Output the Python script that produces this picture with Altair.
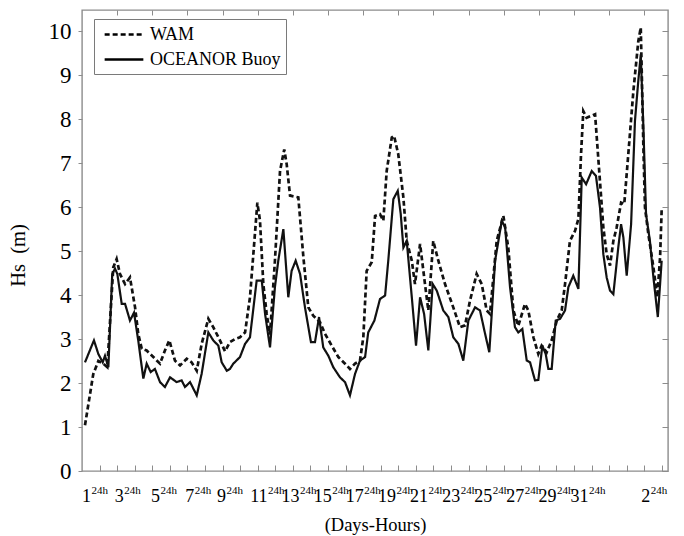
import altair as alt
import pandas as pd

FONT = "Liberation Serif"
FRAME = "#8c8c8c"

# WAM model significant wave height (time in days, Hs in metres)
wam_day = [0.17, 0.64, 0.93, 1.21, 1.44, 1.78, 1.97, 2.16, 2.45, 2.73, 3.02, 3.20,
           3.40, 3.68, 4.06, 4.44, 4.72, 4.97, 5.29, 5.58, 5.96, 6.24, 6.53, 6.81,
           7.19, 7.47, 7.85, 8.14, 8.42, 8.71, 8.99, 9.28, 9.56, 9.98, 10.13, 10.32,
           10.51, 10.70, 10.98, 11.27, 11.51, 11.65, 11.84, 12.31, 12.60, 12.88, 13.16,
           13.55, 13.83, 14.21, 14.59, 14.97, 15.25, 15.54, 15.82, 16.01, 16.20, 16.49,
           16.68, 16.96, 17.15, 17.34, 17.63, 17.76, 18.00, 18.29, 18.48, 18.77, 18.95,
           19.24, 19.52, 19.71, 19.99, 20.28, 20.66, 21.13, 21.51, 21.80, 22.08, 22.46,
           22.75, 23.03, 23.22, 23.60, 23.98, 24.26, 24.55, 24.83, 25.21, 25.40, 25.69,
           25.97, 26.16, 26.45, 26.73, 27.02, 27.30, 27.49, 27.77, 28.06, 28.25, 28.40,
           28.53, 28.72, 29.20, 29.42, 29.67, 29.86, 30.05, 30.24, 30.43, 30.68, 30.86,
           31.09, 31.38, 31.66, 31.80, 31.95, 32.04, 32.23, 32.52, 32.74, 32.90, 32.99]
wam_hs = [1.04, 2.20, 2.50, 2.44, 2.36, 4.63, 4.82, 4.48, 4.25, 4.40, 3.72, 3.12,
          2.78, 2.74, 2.59, 2.44, 2.74, 2.97, 2.51, 2.40, 2.55, 2.47, 2.28, 2.89,
          3.46, 3.27, 2.97, 2.72, 2.93, 3.00, 3.04, 3.15, 3.95, 6.10, 5.69, 4.25,
          3.57, 3.10, 4.78, 6.82, 7.31, 6.97, 6.26, 6.22, 4.86, 3.72, 3.53,
          3.38, 3.12, 2.85, 2.59, 2.44, 2.32, 2.44, 2.51, 3.04, 4.55, 4.75,
          5.80, 5.84, 5.69, 6.82, 7.58, 7.62, 7.20, 6.22, 5.23, 4.78, 4.25,
          5.16, 4.25, 3.65, 5.23, 4.78, 4.25, 3.72, 3.27, 3.31, 3.87, 4.48,
          4.25, 3.65, 3.57, 5.23, 5.80, 5.08, 3.65, 3.30, 3.80, 3.65, 3.04,
          2.66, 2.85, 2.70, 2.97, 3.42, 3.65, 4.25, 5.23, 5.46, 5.73, 7.20,
          8.18, 8.03, 8.11, 6.90, 5.54, 4.93, 4.67, 5.23, 5.54, 6.10, 6.07,
          7.20, 8.64, 9.77, 10.08, 7.35, 5.99, 5.39, 4.63, 3.95, 4.86, 5.95]

# OCEANOR buoy measurements (time in days, Hs in metres)
buoy_day = [0.17, 0.68, 0.93, 1.18, 1.31, 1.50, 1.72, 1.88, 2.01, 2.26, 2.45, 2.73,
            2.96, 3.20, 3.49, 3.68, 3.91, 4.15, 4.44, 4.72, 5.01, 5.39, 5.67, 5.86,
            6.15, 6.53, 6.81, 7.19, 7.47, 7.76, 7.95, 8.24, 8.42, 8.61, 8.99, 9.28,
            9.56, 9.94, 10.23, 10.42, 10.70, 10.98, 11.17, 11.46, 11.74, 11.93, 12.16,
            12.41, 12.69, 13.03, 13.26, 13.49, 13.73, 14.02, 14.30, 14.68, 14.97, 15.25,
            15.54, 15.82, 16.11, 16.29, 16.64, 16.96, 17.25, 17.43, 17.72, 17.97, 18.14,
            18.29, 18.48, 18.77, 19.01, 19.24, 19.47, 19.71, 19.96, 20.19, 20.56, 20.85,
            21.13, 21.42, 21.70, 21.99, 22.37, 22.65, 22.94, 23.18, 23.51, 23.89, 24.08,
            24.36, 24.64, 24.83, 25.06, 25.31, 25.50, 25.78, 25.97, 26.20, 26.39, 26.54,
            26.73, 26.96, 27.21, 27.49, 27.68, 27.96, 28.25, 28.44, 28.69, 29.01, 29.25,
            29.48, 29.67, 29.86, 30.05, 30.24, 30.52, 30.68, 30.81, 31.00, 31.25, 31.47,
            31.66, 31.80, 31.95, 32.10, 32.32, 32.52, 32.77, 32.90, 32.99]
buoy_hs = [2.47, 2.97, 2.66, 2.47, 2.62, 2.36, 4.48, 4.60, 4.48, 3.80, 3.80, 3.42,
           3.60, 2.97, 2.10, 2.44, 2.25, 2.32, 2.02, 1.91, 2.13, 2.02, 2.06, 1.91,
           2.02, 1.72, 2.21, 3.15, 2.97, 2.85, 2.47, 2.28, 2.32, 2.44, 2.59, 2.89,
           3.04, 4.33, 4.33, 3.57, 2.81, 4.18, 4.78, 5.50, 3.95, 4.55, 4.78,
           4.48, 3.72, 2.93, 2.93, 3.50, 2.81, 2.62, 2.36, 2.13, 2.02, 1.72,
           2.21, 2.51, 2.59, 3.15, 3.42, 3.91, 3.99, 4.78, 6.18, 6.37, 5.84,
           5.08, 5.23, 3.95, 2.85, 3.95, 3.57, 2.74, 4.25, 4.10, 3.65, 3.50,
           3.04, 2.89, 2.51, 3.42, 3.72, 3.65, 3.12, 2.70, 4.78, 5.69, 5.54,
           4.18, 3.27, 3.15, 3.23, 2.51, 2.47, 2.06, 2.07, 2.85, 2.66, 2.32,
           2.32, 3.42, 3.46, 3.65, 4.18, 4.44, 4.14, 6.67, 6.52, 6.82, 6.71,
           5.99, 4.93, 4.40, 4.10, 4.02, 5.08, 5.61, 5.31, 4.44, 5.61, 7.96,
           8.87, 9.47, 7.81, 5.84, 5.23, 4.40, 3.50, 4.25, 4.78]

# Day labels along the time axis, each with a "24h" superscript;
# label_day is where the day number ends and the superscript begins
label_day = [0.51, 2.37, 4.44, 6.39, 8.19, 10.56, 12.38, 14.21, 16.04, 17.87,
             19.69, 21.52, 23.35, 25.17, 27.00, 28.83, 32.34]
label_text = ["1", "3", "5", "7", "9", "11", "13", "15", "17", "19",
              "21", "23", "25", "27", "29", "31", "2"]
label_sup = "24h"

bottom_ticks = list(range(1, 34))
top_ticks = list(range(2, 33, 2))
y_ticks = list(range(0, 11))

series_order = ["WAM", "OCEANOR Buoy"]

wam_df = pd.DataFrame({"day": wam_day, "hs": wam_hs, "series": "WAM"})
buoy_df = pd.DataFrame({"day": buoy_day, "hs": buoy_hs, "series": "OCEANOR Buoy"})
labels_df = pd.DataFrame({"day": label_day, "num": label_text, "sup": label_sup})

xs = alt.Scale(domain=[0, 33.35], nice=False, zero=False)
ys = alt.Scale(domain=[0, 10.48], nice=False, zero=True)

# Long horizontal line sample drawn with a compact row height
legend_symbol = "M-2.15,0H2.15"

dash = alt.StrokeDash(
    "series:N",
    scale=alt.Scale(domain=series_order, range=[[5, 3], [1, 0]]),
    legend=alt.Legend(
        title=None,
        orient="none",
        legendX=12,
        legendY=9,
        strokeColor="#7a7a7a",
        fillColor="white",
        padding=5,
        symbolOffset=14.5,
        symbolType=legend_symbol,
        symbolSize=324,
        symbolStrokeWidth=2.5,
        symbolStrokeColor="black",
        labelFont=FONT,
        labelFontSize=18,
        labelColor="black",
        labelOffset=15.5,
        rowPadding=5,
    ),
)

buoy = alt.Chart(buoy_df).mark_line(color="#111111", strokeWidth=2.2).encode(
    x=alt.X(
        "day:Q", scale=xs,
        axis=alt.Axis(
            orient="bottom", values=bottom_ticks, offset=-6, tickSize=6,
            tickColor=FRAME, domain=False, labels=False, grid=False,
            title="(Days-Hours)", titleFont=FONT, titleFontSize=18.5,
            titleFontWeight="normal", titleColor="black",
            titleY=65, titleBaseline="alphabetic",
        ),
    ),
    y=alt.Y(
        "hs:Q", scale=ys,
        axis=alt.Axis(
            orient="left", values=y_ticks, tickSize=4, tickColor=FRAME,
            domain=False, grid=False, labelFont=FONT, labelFontSize=23,
            labelColor="black", labelPadding=7,
            title="Hs\u00a0\u00a0(m)", titleFont=FONT, titleFontSize=20.5,
            titleFontWeight="normal", titleColor="black",
            titleX=-64, titleY=245, titleAngle=-90,
            titleAlign="center", titleBaseline="middle",
        ),
    ),
    strokeDash=dash,
)

wam = alt.Chart(wam_df).mark_line(color="#111111", strokeWidth=2.7).encode(
    x=alt.X(
        "day:Q", scale=xs,
        axis=alt.Axis(
            orient="top", values=top_ticks, offset=-5, tickSize=5,
            tickColor=FRAME, domain=False, labels=False, grid=False, title=None,
        ),
    ),
    y=alt.Y(
        "hs:Q", scale=ys,
        axis=alt.Axis(
            orient="right", values=y_ticks, offset=-6, tickSize=6,
            tickColor=FRAME, domain=False, labels=False, grid=False, title=None,
        ),
    ),
    strokeDash=dash,
)

day_nums = alt.Chart(labels_df).mark_text(
    align="right", baseline="alphabetic", font=FONT, fontSize=18, color="black"
).encode(
    x=alt.X("day:Q", scale=xs, axis=None),
    y=alt.value(492),
    text="num:N",
)

day_sups = alt.Chart(labels_df).mark_text(
    align="left", baseline="alphabetic", font=FONT, fontSize=11, color="black", dx=0.5
).encode(
    x=alt.X("day:Q", scale=xs, axis=None),
    y=alt.value(484),
    text="sup:N",
)

chart = (
    alt.layer(buoy, wam, day_nums, day_sups)
    .resolve_axis(x="independent", y="independent")
    .properties(
        width=586,
        height=461,
        autosize=alt.AutoSizeParams(type="none"),
        padding={"left": 82, "top": 10, "right": 16, "bottom": 65},
        background="white",
    )
    .configure_view(stroke=FRAME, strokeWidth=1.4)
)

chart.save("out.html", embed_options={"renderer": "svg", "actions": False})
